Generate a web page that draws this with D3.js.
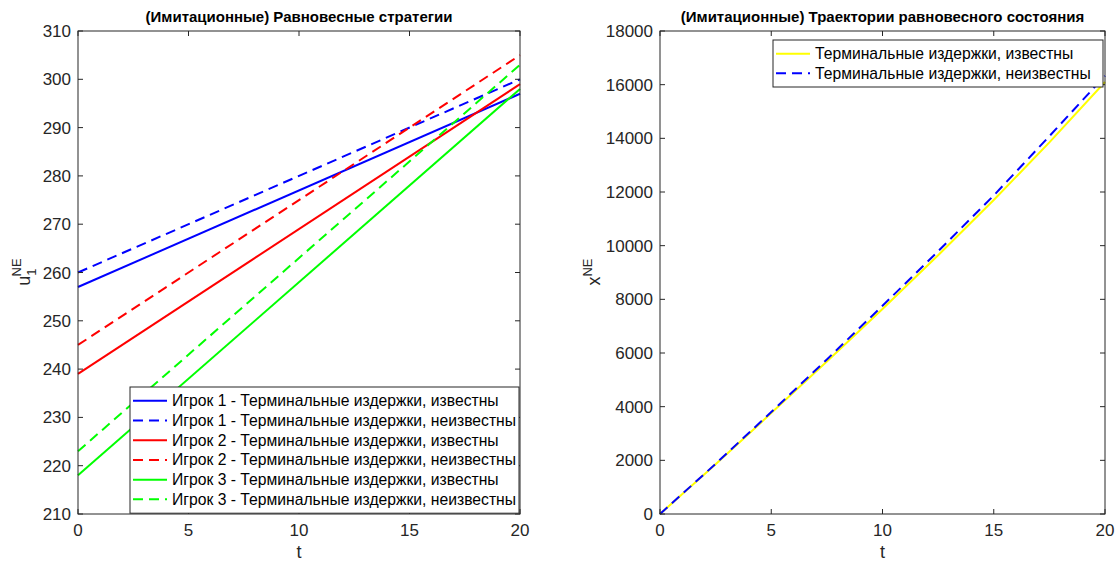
<!DOCTYPE html>
<html>
<head>
<meta charset="utf-8">
<script src="https://cdn.jsdelivr.net/npm/d3@7"></script>
<style>
body { margin: 0; background: #fff; }
svg { font-family: "Liberation Sans", Arial, sans-serif; }
</style>
</head>
<body>
<svg id="chart" width="1120" height="563"></svg>
<script>
// left panel: equilibrium strategies (values at t = 0 and t = 20)
var tLeft = [0, 20];
var p1Known = [257, 297];
var p1Unknown = [260, 300];
var p2Known = [239, 299];
var p2Unknown = [245, 305];
var p3Known = [218, 298];
var p3Unknown = [223, 303];
var leftLabels = [
  "Игрок 1 - Терминальные издержки, известны",
  "Игрок 1 - Терминальные издержки, неизвестны",
  "Игрок 2 - Терминальные издержки, известны",
  "Игрок 2 - Терминальные издержки, неизвестны",
  "Игрок 3 - Терминальные издержки, известны",
  "Игрок 3 - Терминальные издержки, неизвестны"
];

// right panel: equilibrium trajectory
var tRight = [0, 2.5, 5, 7.5, 10, 12.5, 15, 17.5, 20];
var xKnown = [0, 1850, 3760, 5680, 7640, 9640, 11700, 13850, 16100];
var xUnknown = [0, 1870, 3800, 5760, 7760, 9790, 11870, 14080, 16330];
var rightLabels = ["Терминальные издержки, известны", "Терминальные издержки, неизвестны"];

var xTicks = [0, 5, 10, 15, 20];
var leftYTicks = d3.range(210, 311, 10);
var rightYTicks = d3.range(0, 18001, 2000);

var svg = d3.select("#chart");
var axisColor = "#262626";

function panel(box, yDomain, yTicks, title) {
  var x = d3.scaleLinear().domain([0, 20]).range([box.x0, box.x1]);
  var y = d3.scaleLinear().domain(yDomain).range([box.y1, box.y0]);
  var g = svg.append("g");

  g.append("rect")
    .attr("x", box.x0).attr("y", box.y0)
    .attr("width", box.x1 - box.x0).attr("height", box.y1 - box.y0)
    .attr("fill", "#fff");

  var layer = g.append("g").attr("class", "lines");

  // frame and ticks
  var frame = g.append("g");
  frame.append("rect")
    .attr("x", box.x0).attr("y", box.y0)
    .attr("width", box.x1 - box.x0).attr("height", box.y1 - box.y0)
    .attr("fill", "none").attr("stroke", axisColor).attr("stroke-width", 1);

  xTicks.forEach(function(t) {
    frame.append("line").attr("x1", x(t)).attr("x2", x(t)).attr("y1", box.y1).attr("y2", box.y1 - 5).attr("stroke", axisColor);
    frame.append("line").attr("x1", x(t)).attr("x2", x(t)).attr("y1", box.y0).attr("y2", box.y0 + 5).attr("stroke", axisColor);
    frame.append("text").attr("x", x(t)).attr("y", box.y1 + 22)
      .attr("text-anchor", "middle").attr("font-size", 17).attr("fill", axisColor).text(t);
  });
  yTicks.forEach(function(v) {
    frame.append("line").attr("x1", box.x0).attr("x2", box.x0 + 5).attr("y1", y(v)).attr("y2", y(v)).attr("stroke", axisColor);
    frame.append("line").attr("x1", box.x1).attr("x2", box.x1 - 5).attr("y1", y(v)).attr("y2", y(v)).attr("stroke", axisColor);
    frame.append("text").attr("x", box.x0 - 7).attr("y", y(v) + 6)
      .attr("text-anchor", "end").attr("font-size", 17).attr("fill", axisColor).text(v);
  });

  g.append("text").attr("x", (box.x0 + box.x1) / 2).attr("y", box.y0 - 9)
    .attr("text-anchor", "middle").attr("font-size", 15).attr("font-weight", "bold")
    .attr("fill", "#000").text(title);

  g.append("text").attr("x", (box.x0 + box.x1) / 2).attr("y", box.y1 + 44)
    .attr("text-anchor", "middle").attr("font-size", 18).attr("fill", axisColor).text("t");

  return { x: x, y: y, g: g, layer: layer };
}

function drawLine(p, ts, vals, color, dashed) {
  var line = d3.line().x(function(d, i) { return p.x(ts[i]); }).y(function(d) { return p.y(d); });
  p.layer.append("path")
    .datum(vals)
    .attr("d", line)
    .attr("fill", "none")
    .attr("stroke", color)
    .attr("stroke-width", 2)
    .attr("stroke-dasharray", dashed ? "10,6" : null);
}

function legend(p, bx, by, bw, rowH, items) {
  var lg = p.g.append("g");
  lg.append("rect").attr("x", bx).attr("y", by).attr("width", bw).attr("height", rowH * items.length + 8)
    .attr("fill", "#fff").attr("stroke", axisColor).attr("stroke-width", 1);
  items.forEach(function(it, i) {
    var cy = by + 4 + rowH * (i + 0.5);
    lg.append("line").attr("x1", bx + 3).attr("x2", bx + 37).attr("y1", cy).attr("y2", cy)
      .attr("stroke", it.color).attr("stroke-width", 2).attr("stroke-dasharray", it.dashed ? "10,6" : null);
    lg.append("text").attr("x", bx + 42).attr("y", cy + 5.5).attr("font-size", 15.7).attr("fill", "#000").text(it.label);
  });
}

// left
var L = panel({ x0: 78, x1: 520, y0: 31, y1: 514 }, [210, 310], leftYTicks, "(Имитационные) Равновесные стратегии");
var leftSeries = [
  { v: p1Known, color: "#0000ff", dashed: false },
  { v: p1Unknown, color: "#0000ff", dashed: true },
  { v: p2Known, color: "#ff0000", dashed: false },
  { v: p2Unknown, color: "#ff0000", dashed: true },
  { v: p3Known, color: "#00ff00", dashed: false },
  { v: p3Unknown, color: "#00ff00", dashed: true }
];
leftSeries.forEach(function(s) { drawLine(L, tLeft, s.v, s.color, s.dashed); });
legend(L, 130, 387, 389, 19.7, leftSeries.map(function(s, i) { return { color: s.color, dashed: s.dashed, label: leftLabels[i] }; }));

var ul = svg.append("text").attr("transform", "translate(30,272) rotate(-90)")
  .attr("text-anchor", "middle").attr("font-size", 18).attr("fill", axisColor);
ul.append("tspan").text("u");
ul.append("tspan").attr("font-size", 13).attr("dy", 6).text("1");
ul.append("tspan").attr("font-size", 13).attr("dx", -8).attr("dy", -15).text("NE");

// right
var R = panel({ x0: 660, x1: 1105, y0: 31, y1: 514 }, [0, 18000], rightYTicks, "(Имитационные) Траектории равновесного состояния");
drawLine(R, tRight, xKnown, "#ffff00", false);
drawLine(R, tRight, xUnknown, "#0000ff", true);
legend(R, 773, 40, 330, 19.5, [
  { color: "#ffff00", dashed: false, label: rightLabels[0] },
  { color: "#0000ff", dashed: true, label: rightLabels[1] }
]);

var xl = svg.append("text").attr("transform", "translate(600,272) rotate(-90)")
  .attr("text-anchor", "middle").attr("font-size", 18).attr("fill", axisColor);
xl.append("tspan").text("x");
xl.append("tspan").attr("font-size", 13).attr("dy", -8).text("NE");
</script>
</body>
</html>
